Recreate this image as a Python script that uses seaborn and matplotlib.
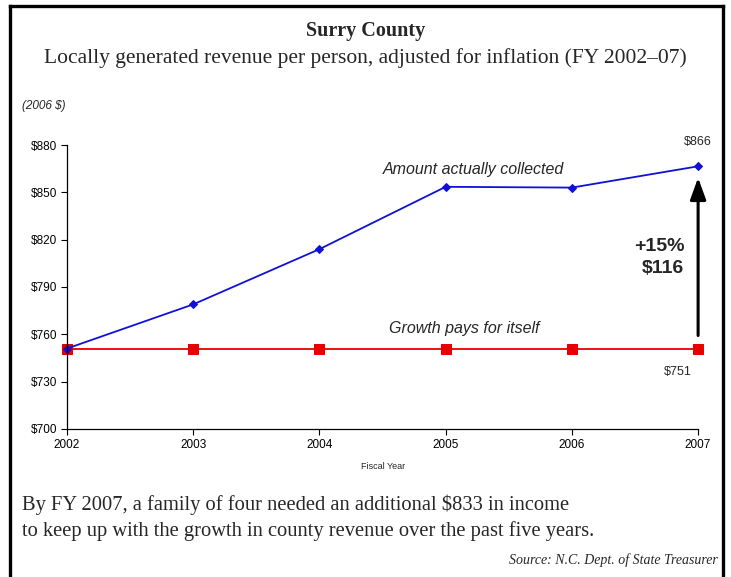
import matplotlib
matplotlib.use("Agg")
import matplotlib.pyplot as plt
import seaborn as sns
import pandas as pd
from matplotlib.lines import Line2D

# data
years = [2002, 2003, 2004, 2005, 2006, 2007]
collected = [751, 779, 814, 853.5, 853, 866.5]
baseline = [751, 751, 751, 751, 751, 751]
y_ticks = [700, 730, 760, 790, 820, 850, 880]

sns.set_theme(style="ticks")
plt.rcParams["font.family"] = ["Liberation Sans", "DejaVu Sans"]
serif = ["Liberation Serif", "DejaVu Serif"]

df = pd.DataFrame({
    "year": years * 2,
    "value": collected + baseline,
    "series": ["collected"] * len(years) + ["baseline"] * len(years),
})

fig = plt.figure(figsize=(7.31, 5.77), dpi=100)
ax = fig.add_axes([0.0917, 0.2565, 0.8633, 0.4922])

sns.lineplot(data=df[df.series == "baseline"], x="year", y="value", ax=ax,
             color="#E80000", lw=1.3, marker="s", markersize=6.5,
             markeredgecolor="#E80000", clip_on=False)
sns.lineplot(data=df[df.series == "collected"], x="year", y="value", ax=ax,
             color="#1010D8", lw=1.3, marker="D", markersize=4.5,
             markeredgecolor="#1010D8", clip_on=False)

ax.set_xlim(2002, 2007)
ax.set_ylim(700, 880)
ax.set_xticks(years)
ax.set_xticklabels([str(y) for y in years], fontsize=8.5)
ax.set_yticks(y_ticks)
ax.set_yticklabels([f"${v}" for v in y_ticks], fontsize=8.5)
ax.tick_params(length=4, width=0.8, colors="black", pad=3)
for s in ["top", "right"]:
    ax.spines[s].set_visible(False)
for s in ["left", "bottom"]:
    ax.spines[s].set_linewidth(0.9)
    ax.spines[s].set_color("black")
ax.set_xlabel("Fiscal Year", fontsize=6.5, labelpad=8)
ax.set_ylabel("")

# annotations
ax.text(2005.22, 864.5, "Amount actually collected", style="italic",
        fontsize=11.5, ha="center", va="center")
ax.text(2005.15, 763.5, "Growth pays for itself", style="italic",
        fontsize=11.5, ha="center", va="center")
ax.text(2007, 882, "$866", fontsize=9, ha="center", va="center")
ax.text(2006.95, 736, "$751", fontsize=9, ha="right", va="center")
ax.text(2006.89, 815.5, "+15%", fontsize=14, fontweight="bold", ha="right", va="center")
ax.text(2006.89, 801.5, "$116", fontsize=14, fontweight="bold", ha="right", va="center")
ax.annotate("", xy=(2007, 861), xytext=(2007, 757.5),
            arrowprops=dict(arrowstyle="-|>,head_width=0.4,head_length=1.1",
                            color="black", lw=2.2))

# header and footer text
fig.text(0.5, 0.946, "Surry County", family=serif, fontweight="bold",
         fontsize=14.5, ha="center", va="center")
fig.text(0.5, 0.899, "Locally generated revenue per person, adjusted for inflation (FY 2002\u201307)",
         family=serif, fontsize=15.5, ha="center", va="center")
fig.text(0.030, 0.816, "(2006 $)", style="italic", fontsize=8.5, ha="left", va="center")
fig.text(0.030, 0.125, "By FY 2007, a family of four needed an additional $833 in income",
         family=serif, fontsize=14.8, ha="left", va="center")
fig.text(0.030, 0.080, "to keep up with the growth in county revenue over the past five years.",
         family=serif, fontsize=14.8, ha="left", va="center")
fig.text(0.982, 0.0295, "Source: N.C. Dept. of State Treasurer", family=serif,
         style="italic", fontsize=10, ha="right", va="center")

# frame around the figure
for xs, ys in [([0.0137, 0.0137], [0.0, 0.9896]),
               ([0.9885, 0.9885], [0.0, 0.9896]),
               ([0.0137, 0.9885], [0.9896, 0.9896])]:
    fig.add_artist(Line2D(xs, ys, transform=fig.transFigure, color="black",
                          lw=2.4, solid_capstyle="projecting"))

fig.savefig("out.png", dpi=100)
